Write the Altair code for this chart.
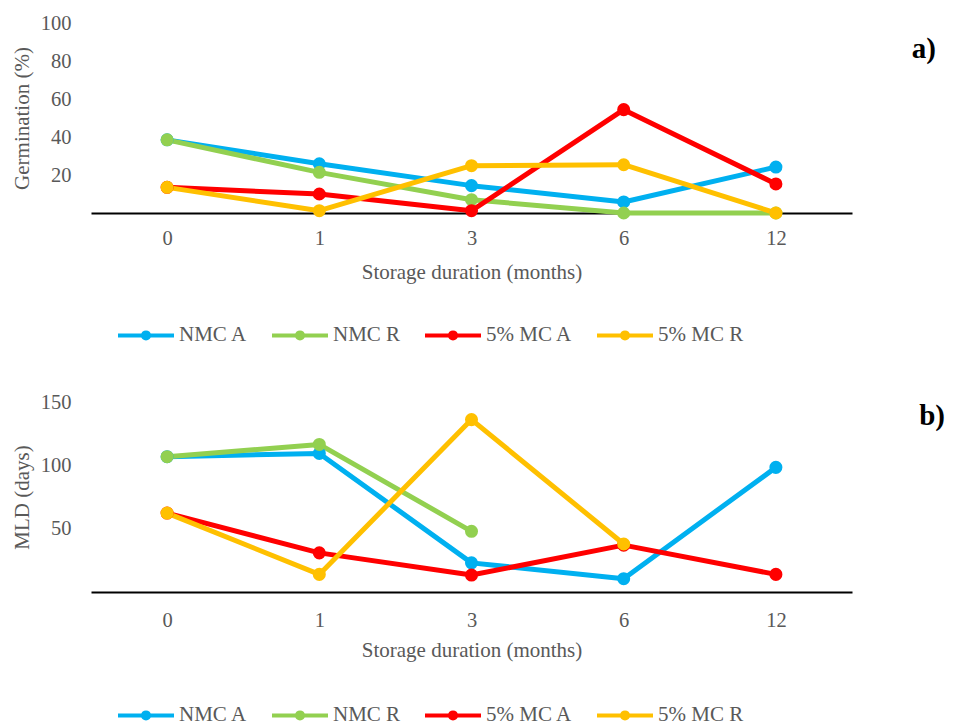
import altair as alt
import pandas as pd

months = ["0", "1", "3", "6", "12"]
series = ["NMC A", "NMC R", "5% MC A", "5% MC R"]
colors = ["#00B0F0", "#92D050", "#FF0000", "#FFC000"]

# a) Germination (%)
germ_nmc_a = [38.5, 25.9, 14.4, 5.8, 24.2]
germ_nmc_r = [38.5, 21.4, 7.0, 0.0, 0.0]
germ_mc_a = [13.5, 10.0, 1.2, 54.4, 15.3]
germ_mc_r = [13.5, 1.2, 24.9, 25.4, 0.0]

# b) MLD (days)
mld_nmc_a = [106.8, 109.4, 23.0, 10.5, 98.4]
mld_nmc_r = [106.8, 116.5, 47.9, None, None]
mld_mc_a = [62.3, 30.9, 13.4, 37.0, 13.9]
mld_mc_r = [62.3, 13.9, 136.1, 37.9, None]

germ_ticks = [20, 40, 60, 80, 100]
mld_ticks = [50, 100, 150]

FONT = "Liberation Serif"
GRAY = "#595959"
SYMBOL = ("M-1,0H1"
          "M0.11,0A0.11,0.11,0,1,1,-0.11,0A0.11,0.11,0,1,1,0.11,0Z"
          "M0.04,0A0.04,0.04,0,1,1,-0.04,0A0.04,0.04,0,1,1,0.04,0Z")


def long_df(vals_list):
    rows = []
    for s, vals in zip(series, vals_list):
        for m, v in zip(months, vals):
            if v is not None:
                rows.append({"month": m, "series": s, "value": v})
    return pd.DataFrame(rows)


def panel(df, ymax, yticks, ytitle, tag, tag_x, tag_y, xlab_pad, xtitle_y, height, legend_y):
    color = alt.Color(
        "series:N",
        sort=series,
        scale=alt.Scale(domain=series, range=colors),
        legend=alt.Legend(
            orient="none", legendX=25, legendY=legend_y, direction="horizontal",
            title=None, symbolType=SYMBOL, symbolSize=3136, symbolStrokeWidth=4,
            labelFont=FONT, labelFontSize=21, labelColor=GRAY, labelOffset=3,
            columnPadding=16, labelLimit=0,
        ),
    )
    x = alt.X(
        "month:O", sort=months,
        scale=alt.Scale(type="point", padding=0.5),
        axis=alt.Axis(
            title="Storage duration (months)", labelAngle=0, ticks=False, tickSize=0,
            domainColor="black", domainWidth=2, labelPadding=xlab_pad, titleY=xtitle_y,
            grid=False, labelFont=FONT, labelFontSize=20.5, labelColor=GRAY,
            titleFont=FONT, titleFontSize=21, titleColor=GRAY, titleFontWeight="normal",
        ),
    )
    y = alt.Y(
        "value:Q",
        scale=alt.Scale(domain=[0, ymax], nice=False, zero=True),
        axis=alt.Axis(
            values=yticks, title=ytitle, domain=False, ticks=False, tickSize=0,
            grid=False, labelPadding=20, titleX=-59, labelFont=FONT, labelFontSize=20.5,
            labelColor=GRAY, titleFont=FONT, titleFontSize=21, titleColor=GRAY,
            titleFontWeight="normal",
        ),
    )
    lines = alt.Chart(df).mark_line(
        strokeWidth=5, strokeCap="round", strokeJoin="round",
        point=alt.OverlayMarkDef(filled=True, size=170, opacity=1),
    ).encode(x=x, y=y, color=color)
    tag_df = pd.DataFrame({"tag": [tag]})
    tag_text = alt.Chart(tag_df).mark_text(
        font=FONT, fontSize=29, fontWeight="bold", align="right",
        baseline="alphabetic", color="black",
    ).encode(x=alt.value(tag_x), y=alt.value(tag_y), text="tag:N")
    return alt.layer(lines, tag_text).properties(width=761, height=height)


top = panel(long_df([germ_nmc_a, germ_nmc_r, germ_mc_a, germ_mc_r]), 100, germ_ticks,
            "Germination (%)", "a)", 845, 35, 15.4, 48.7, 190, 282)
bottom = panel(long_df([mld_nmc_a, mld_nmc_r, mld_mc_a, mld_mc_r]), 150, mld_ticks,
               "MLD (days)", "b)", 854, 23, 18.3, 47.6, 190, 283)

chart = alt.vconcat(top, bottom, spacing=45).resolve_scale(
    x="independent", y="independent", color="independent"
).resolve_legend(color="independent").configure_view(stroke=None).properties(
    padding={"left": 2, "top": 5, "right": 0, "bottom": 0}
)

chart.save("out.html", embed_options={"renderer": "svg", "actions": False})
